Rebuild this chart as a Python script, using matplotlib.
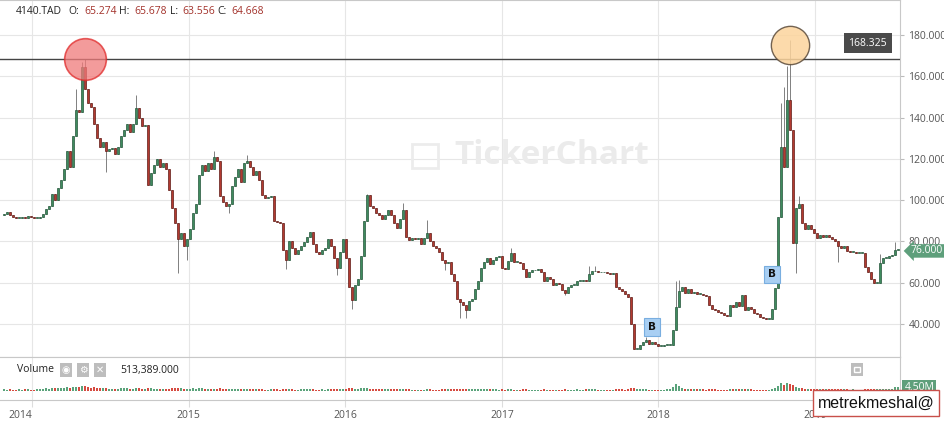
import matplotlib.pyplot as plt
import matplotlib.dates as mdates
import matplotlib.transforms as mtransforms
from matplotlib.patches import Rectangle
import numpy as np
import pandas as pd

# weekly closes of 4140.TAD (Oct 2013 - Jul 2019)
closes = [
    93.5, 94.5, 93, 92, 91.5, 91.5, 92, 91.5, 92.5, 92,
    91.5, 91.5, 92, 93.5, 95.5, 97, 103, 100, 106, 110,
    115, 124, 116, 131, 143.7, 142.5, 164.5, 154, 147, 145,
    137, 130, 126, 128, 124, 125, 125.5, 122.5, 126, 131,
    134, 137, 133, 137, 144.6, 140, 136, 136.5, 107.3, 113,
    117, 120, 116, 118, 115, 105, 96, 89, 81, 84,
    78, 81, 86, 94, 98, 112, 117, 114, 118, 115,
    121, 119, 102, 99, 97, 98, 107, 111, 115, 109,
    118, 119, 116, 112, 114, 110, 102.5, 101, 101.5, 102,
    90, 89.5, 89, 76, 71, 80, 77, 74, 76, 78,
    79.5, 82, 84.5, 79, 75, 74, 76, 77, 81, 78,
    72, 67, 75, 81, 72, 58, 51.5, 59, 62, 73,
    90, 102.5, 97, 96, 94, 93, 91, 93, 95, 93,
    89, 86.5, 91, 95, 82, 80.5, 81.5, 81, 81.5, 79,
    81.5, 84, 80, 78, 77, 75, 71, 69.5, 70, 64,
    61, 52, 50.5, 49, 47, 51, 52, 57, 61, 67,
    70, 72, 69, 71, 72.5, 73, 67, 66.5, 70.5, 74.4,
    70, 70, 69.5, 66.6, 62.7, 65, 66, 66, 66.5, 65,
    61, 63, 62, 59, 60, 59.5, 56.5, 55, 58, 59,
    59, 61, 61, 61.5, 61, 64, 65.5, 65.5, 65, 65,
    65, 64.5, 64, 64.5, 58, 57, 56, 54.5, 53, 40,
    28, 28, 30, 31.5, 32, 30.5, 31.5, 30.5, 29.5, 29.5,
    30, 30, 30, 37, 48, 56, 58, 55, 57, 55,
    55.5, 54.5, 54.5, 54, 53.5, 49, 47.5, 47, 46, 45.5,
    44.5, 44, 49, 48, 50.5, 48.5, 54, 47, 48, 47.5,
    45.5, 45, 43.5, 43, 42.5, 42.5, 47.5, 57.5, 91.8, 125.7,
    116, 148.5, 134, 79.3, 96, 98, 89, 86, 88, 86,
    84, 81.5, 83, 82, 83, 82, 81, 80, 78, 77,
    78, 75.5, 75, 75, 74.5, 74.5, 74.5, 67.6, 65, 62,
    60, 60, 69.5, 72, 72, 73, 73.5, 76, 76,
]
first_open = 93.0

# long wicks (week index: price)
spike_highs = {24: 154, 26: 167, 27: 168.325, 44: 151, 70: 124, 81: 122,
               121: 103, 133: 98.6, 141: 90.3, 169: 77, 195: 68, 197: 68,
               214: 33.5, 224: 61, 225: 61.5, 259: 147, 260: 155, 261: 165,
               262: 177.6, 265: 102, 292: 74, 297: 79.5}
spike_lows = {34: 113.6, 58: 64.7, 61: 71, 75: 94, 94: 66.8, 111: 63.5,
              116: 47.3, 147: 66, 152: 43, 154: 43, 187: 54, 264: 64.7, 278: 70}

# weekly volume, millions
volumes = [
    2.1, 1.8, 2.4, 1.6, 1.9, 2.2, 1.7, 2.0, 2.3, 1.9,
    1.8, 2.1, 2.5, 2.9, 3.2, 3.0, 3.8, 3.5, 4.1, 3.9,
    4.4, 4.8, 4.2, 5.1, 5.6, 4.9, 6.0, 5.8, 4.7, 4.3,
    4.5, 3.9, 3.6, 3.3, 4.0, 3.1, 2.9, 3.0, 2.8, 3.2,
    3.4, 3.6, 2.9, 3.1, 3.8, 3.3, 2.7, 2.5, 4.2, 3.6,
    3.0, 2.8, 2.6, 2.9, 2.4, 3.1, 3.5, 3.2, 3.9, 3.3,
    2.9, 2.7, 3.0, 3.4, 2.8, 3.6, 3.3, 2.6, 2.9, 2.5,
    3.1, 2.7, 3.4, 2.8, 2.3, 2.2, 2.9, 2.6, 2.8, 2.4,
    2.7, 2.5, 2.3, 2.1, 2.2, 2.0, 2.4, 1.9, 1.8, 2.0,
    2.6, 2.1, 1.9, 2.8, 2.7, 2.4, 2.0, 1.8, 1.9, 2.1,
    2.0, 2.2, 2.3, 2.1, 1.9, 1.8, 2.0, 1.9, 2.2, 2.0,
    2.3, 2.5, 2.4, 2.6, 2.7, 3.3, 3.6, 3.1, 2.9, 3.4,
    3.8, 3.5, 2.9, 2.6, 2.4, 2.2, 2.3, 2.5, 2.6, 2.3,
    2.1, 2.0, 2.4, 2.6, 2.9, 2.2, 1.9, 1.8, 1.7, 1.9,
    1.8, 2.2, 2.0, 1.9, 1.8, 1.9, 2.2, 2.3, 2.0, 2.5,
    2.6, 2.8, 2.5, 2.3, 2.4, 2.1, 2.2, 2.5, 2.6, 2.7,
    2.5, 2.3, 2.1, 2.0, 2.2, 1.9, 2.1, 1.8, 2.0, 2.3,
    1.9, 1.8, 1.7, 2.0, 2.2, 1.9, 1.8, 1.7, 1.8, 1.9,
    2.0, 1.8, 1.7, 1.9, 1.8, 1.7, 1.9, 2.0, 1.8, 1.9,
    1.8, 2.0, 1.9, 1.8, 2.0, 2.2, 2.1, 2.0, 1.9, 1.8,
    1.9, 1.8, 1.7, 1.8, 2.3, 2.1, 2.0, 1.9, 2.2, 3.2,
    3.6, 2.4, 2.1, 2.3, 2.2, 1.9, 1.8, 1.7, 1.8, 1.9,
    1.8, 2.0, 2.2, 4.5, 8.6, 6.2, 4.1, 3.0, 2.7, 2.5,
    2.4, 2.2, 2.1, 2.0, 1.9, 2.4, 2.2, 2.0, 1.9, 1.8,
    1.9, 1.8, 2.3, 2.1, 2.5, 2.2, 2.8, 2.4, 2.1, 2.0,
    1.9, 1.8, 1.9, 1.8, 1.7, 1.8, 2.6, 3.8, 6.5, 9.8,
    8.2, 10.5, 9.1, 7.4, 5.6, 4.3, 3.5, 3.0, 2.8, 2.6,
    2.5, 2.3, 2.4, 2.2, 2.1, 2.0, 2.2, 2.1, 2.4, 2.2,
    2.0, 2.1, 1.9, 2.0, 1.8, 1.9, 1.8, 2.6, 2.4, 2.7,
    2.5, 2.3, 3.1, 2.6, 2.4, 2.3, 2.5, 4.5, 4.5,
]

buy_signals = {216: 38.5, 256: 64.0}   # week index: price of the "B" tag
price_ticks = [40, 60, 80, 100, 120, 140, 160, 180]
years = ["2014", "2015", "2016", "2017", "2018", "2019"]

W, H = 945, 422
GREEN, GREEN_E = "#3f8b5e", "#24553a"
RED, RED_E = "#b23a30", "#5e1a15"

opens = [first_open] + closes[:-1]
highs = [max(o, c) for o, c in zip(opens, closes)]
lows = [min(o, c) for o, c in zip(opens, closes)]
for k, v in spike_highs.items():
    highs[k] = v
for k, v in spike_lows.items():
    lows[k] = v

o = np.array(opens)
c = np.array(closes)
dates = pd.date_range("2013-10-27", periods=len(closes), freq="7D")
x = mdates.date2num(dates)
up = c >= o

fig = plt.figure(figsize=(W / 100, H / 100), dpi=100)
ax = fig.add_axes([0, 1 - 357 / H, 900 / W, 357 / H])
axv = fig.add_axes([0, 1 - 400 / H, 900 / W, 43 / H], sharex=ax)

ax.vlines(x, lows, highs, color="#808080", lw=0.7, zorder=2)
ax.bar(x, np.maximum(np.abs(c - o), 0.3), bottom=np.minimum(o, c), width=5.4,
       color=np.where(up, GREEN, RED), edgecolor=np.where(up, GREEN_E, RED_E),
       linewidth=0.5, zorder=3)

x0 = x[0] - 1.33 * 7
x1 = x[0] + 298.67 * 7
ax.set_xlim(x0, x1)
ax.set_ylim(24, 197)

year_pos = [mdates.date2num(pd.Timestamp(y + "-01-01")) for y in years]
for a in (ax, axv):
    a.set_xticks(year_pos)
    a.grid(True, color="#e6e6e6", lw=0.8, zorder=0)
    a.set_axisbelow(True)
    a.spines["left"].set_visible(False)
    for s in ("top", "bottom", "right"):
        a.spines[s].set_color("#c8c8c8")

ax.yaxis.tick_right()
ax.set_yticks(price_ticks)
ax.set_yticklabels([f"{v:.3f}" for v in price_ticks])
ax.tick_params(axis="y", labelsize=7.5, labelcolor="#555555", color="#bbbbbb",
               length=3, pad=3)
ax.tick_params(axis="x", labelbottom=False, length=0)
for lab in ax.get_yticklabels():
    lab.set_fontfamily("Open Sans")

# peak level line and tag
level = max(highs[:100])
ax.axhline(level, color="#444444", lw=1, zorder=4)
blend = mtransforms.blended_transform_factory(ax.transAxes, ax.transData)
ax.annotate(f"{level:.3f}", xy=(0.964, level), xycoords=blend,
            xytext=(0, 11.5), textcoords="offset points", ha="center", va="center",
            color="white", fontsize=7.5, family="Open Sans",
            bbox=dict(boxstyle="square,pad=0.45", fc="#4a4a4a", ec="none"), zorder=6)

# highlight circles
ax.scatter([x[27]], [highs[27]], s=900, color="#f07a7a", alpha=0.75,
           edgecolor="#e02a2a", linewidth=1.2, zorder=5)
ax.scatter([x[262]], [175.0], s=760, color="#fcd49c", alpha=0.85,
           edgecolor="#5a4a3a", linewidth=1.0, zorder=5)

# buy tags
for k, v in buy_signals.items():
    ax.text(x[k], v, "B", ha="center", va="center", fontsize=7.5, weight="bold",
            color="#111111", zorder=6,
            bbox=dict(boxstyle="square,pad=0.35", fc="#a9cff3", ec="#79aee0", lw=0.8))

# last price tag (sits on the 80.000 label, as in the original)
ax.text(1.012, closes[-1] - 0.6, f"{closes[-1]:.3f}", transform=blend, ha="left",
        va="center", color="white", fontsize=7.5, family="Open Sans", clip_on=False,
        zorder=6, bbox=dict(boxstyle="larrow,pad=0.12", fc="#5e9f7b", ec="none"))

# volume pane
axv.bar(x, volumes, width=5.4, color=np.where(up, "#5aa37b", "#d64a40"), zorder=3)
axv.set_ylim(-11.6, 43.7)
axv.set_yticks([])
axv.tick_params(axis="x", labelsize=7.5, labelcolor="#555555", color="#dddddd",
                length=5, pad=2)
axv.set_xticklabels(years)
for lab in axv.get_xticklabels():
    lab.set_fontfamily("Open Sans")
axv.get_xticklabels()[0].set_ha("right")
vblend = mtransforms.blended_transform_factory(axv.transAxes, axv.transData)
axv.text(1.005, volumes[-1], f"{volumes[-1]:.2f}M", transform=vblend, ha="left",
         va="center", color="white", fontsize=7.5, family="Open Sans", clip_on=False,
         bbox=dict(boxstyle="square,pad=0.2", fc="#5e9f7b", ec="none"))


def px(xp, yp):
    return xp / W, 1 - yp / H


# header
hdr = [(16, "4140.TAD", "#222222"), (68, "O:", "#222222"), (84, "65.274", "#a3322b"),
       (119, "H:", "#222222"), (134, "65.678", "#a3322b"), (170, "L:", "#222222"),
       (182, "63.556", "#a3322b"), (217, "C:", "#222222"), (231, "64.668", "#a3322b")]
for xp, t, col in hdr:
    fig.text(*px(xp, 11), t, color=col, fontsize=7.5, family="Open Sans",
             ha="left", va="center")

# watermark
fig.patches.append(Rectangle(px(412, 168), 26 / W, 24 / H, transform=fig.transFigure,
                             fc="none", ec="#ececec", lw=2, zorder=1))
fig.text(*px(552, 156), "TickerChart", fontsize=24, weight="bold", color="#ebebeb",
         ha="center", va="center", family="Open Sans", zorder=1)

# volume header
fig.text(*px(17, 370), "Volume", fontsize=7.5, color="#222222", family="Open Sans",
         va="center")
for xp, sym in [(60, "\u25c9"), (77, "\u2699"), (94, "\u2715")]:
    fig.patches.append(Rectangle(px(xp, 377), 12 / W, 14 / H, transform=fig.transFigure,
                                 fc="#bdbdbd", ec="none"))
    fig.text(*px(xp + 6, 370), sym, fontsize=7, color="white", ha="center",
             va="center", family="DejaVu Sans")
fig.text(*px(120, 370), "513,389.000", fontsize=7.5, color="#222222",
         family="Open Sans", va="center")
fig.patches.append(Rectangle(px(851, 376), 12 / W, 13 / H, transform=fig.transFigure,
                             fc="#bdbdbd", ec="none"))
fig.patches.append(Rectangle(px(854, 372), 6 / W, 5 / H, transform=fig.transFigure,
                             fc="none", ec="white", lw=1))

# signature box
fig.text(*px(876, 403), "metrekmeshal@", fontsize=11.5, color="#111111",
         family="Liberation Sans", ha="center", va="center",
         bbox=dict(boxstyle="square,pad=0.32", fc="white", ec="#c8504a", lw=1))

fig.savefig("out.png", dpi=100)
